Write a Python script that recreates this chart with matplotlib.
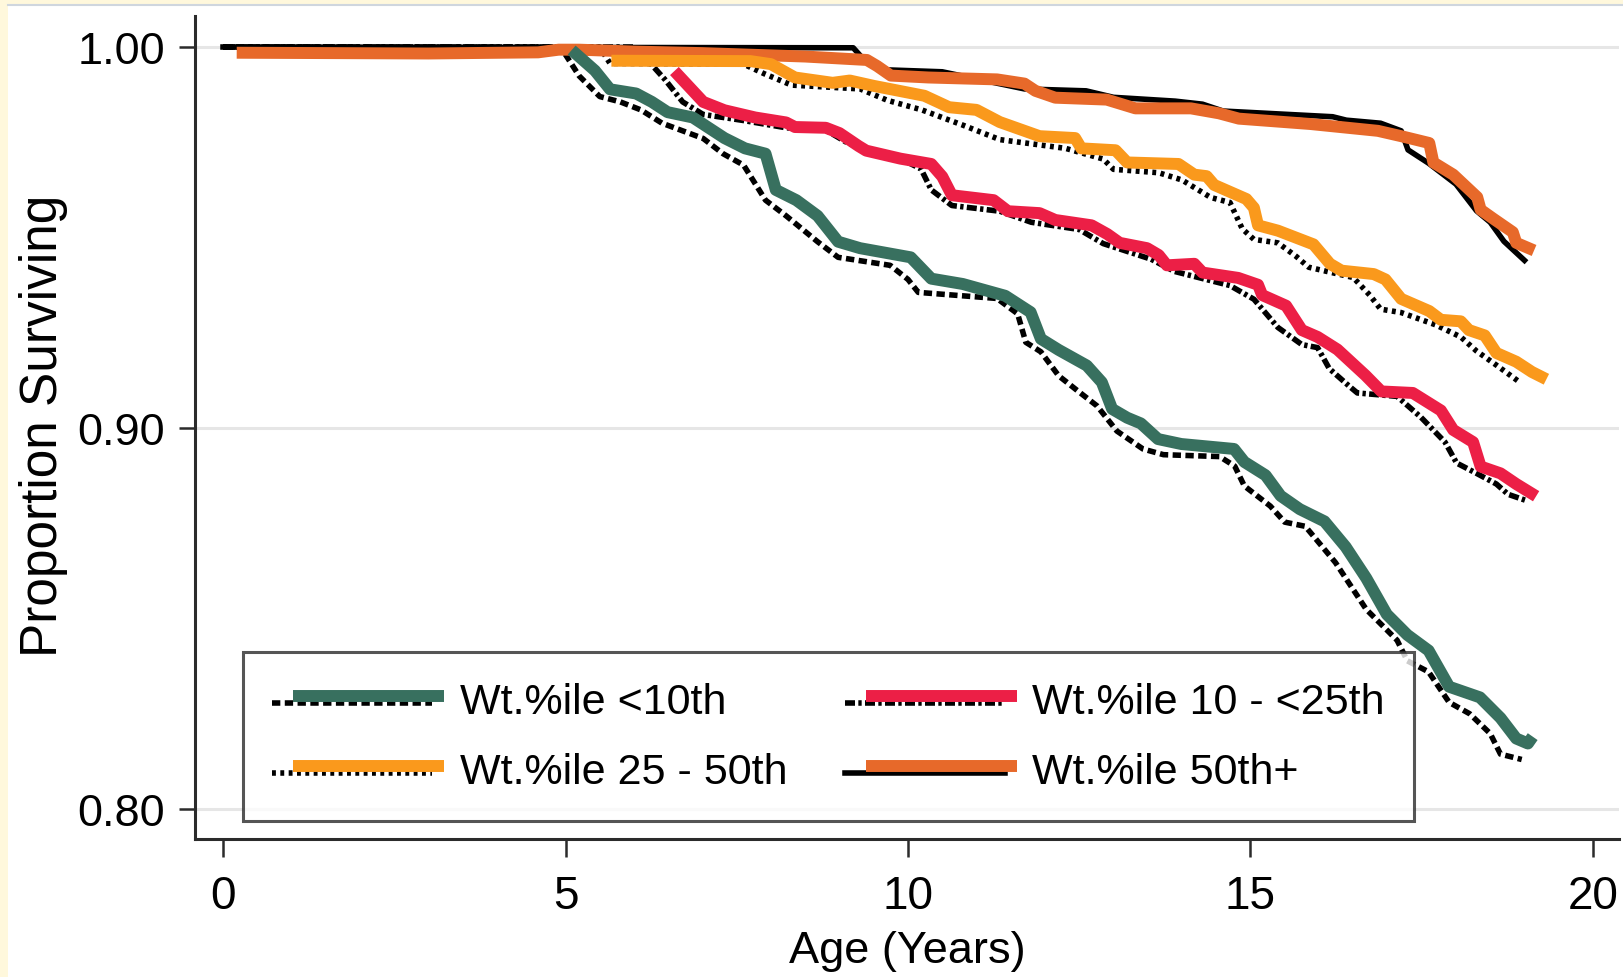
import matplotlib.pyplot as plt
from matplotlib.lines import Line2D
from matplotlib.legend_handler import HandlerBase
from matplotlib.patches import Rectangle

# survival curves (age in years, proportion surviving)

# Wt.%ile <10th
green_age = [5.09, 5.43, 5.65, 6.03, 6.26, 6.49, 6.86, 7.09, 7.32, 7.62, 7.92, 8.07, 8.37, 8.68, 8.98,
             9.3, 10.04, 10.34, 10.8, 11.42, 11.79, 11.94, 12.2, 12.61, 12.83, 12.98, 13.2, 13.4, 13.65,
             13.99, 14.76, 14.91, 15.22, 15.44, 15.72, 16.08, 16.39, 16.69, 16.99, 17.29, 17.6, 17.9,
             18.35, 18.65, 18.88, 19.05, 19.12]
green_surv = [0.9992, 0.9938, 0.9889, 0.9878, 0.9856, 0.9829, 0.9815, 0.9788, 0.9761, 0.9734, 0.972,
              0.9625, 0.9598, 0.9557, 0.9489, 0.9472, 0.9448, 0.9392, 0.9378, 0.9347, 0.9304, 0.9234,
              0.9205, 0.9164, 0.912, 0.905, 0.9027, 0.9012, 0.8971, 0.8958, 0.8945, 0.8911, 0.8876,
              0.8822, 0.8787, 0.8755, 0.8688, 0.8606, 0.8511, 0.8457, 0.8416, 0.8321, 0.8293, 0.8239,
              0.8185, 0.8172, 0.819]
blk10_age = [0, 4.9, 5.0, 5.2, 5.5, 5.8, 6.1, 6.41, 7.01, 7.3, 7.6, 7.92, 8.22, 8.68, 8.98, 9.74, 10.0,
             10.15, 11.3, 11.6, 11.72, 11.94, 12.2, 12.46, 12.76, 13.05, 13.43, 13.73, 14.55, 14.77,
             14.91, 15.29, 15.5, 15.8, 16.24, 16.69, 17.14, 17.29, 17.6, 17.9, 18.2, 18.5, 18.65, 18.96]
blk10_surv = [1.0, 1.0, 0.998, 0.9924, 0.987, 0.9856, 0.9835, 0.98, 0.976, 0.972, 0.969, 0.9598, 0.9557,
              0.9489, 0.9448, 0.9427, 0.939, 0.9356, 0.934, 0.93, 0.9225, 0.92, 0.9137, 0.91, 0.9058,
              0.8992, 0.8945, 0.893, 0.8925, 0.89, 0.8848, 0.8795, 0.8753, 0.8742, 0.8647, 0.8524,
              0.8443, 0.8389, 0.836, 0.828, 0.825, 0.8198, 0.8144, 0.813]

# Wt.%ile 10 - <25th
red_age = [6.59, 7.01, 7.32, 7.77, 8.22, 8.35, 8.8, 9.0, 9.28, 9.39, 9.89, 10.34, 10.5, 10.64, 11.25,
           11.46, 11.92, 12.15, 12.68, 12.91, 13.09, 13.49, 13.66, 13.78, 14.18, 14.3, 14.82, 15.11,
           15.17, 15.52, 15.75, 15.98, 16.27, 16.68, 16.91, 17.37, 17.78, 17.96, 18.25, 18.36, 18.65,
           18.88, 19.17]
red_surv = [0.9937, 0.9856, 0.9834, 0.9815, 0.9802, 0.979, 0.9788, 0.9774, 0.974, 0.9728, 0.9707,
            0.9693, 0.966, 0.9611, 0.9598, 0.9569, 0.9564, 0.9546, 0.9532, 0.9509, 0.9486, 0.9472,
            0.9454, 0.9427, 0.9431, 0.9408, 0.9394, 0.9376, 0.9349, 0.9321, 0.9257, 0.9239, 0.9206,
            0.9138, 0.9096, 0.9092, 0.9046, 0.8995, 0.8963, 0.8899, 0.8881, 0.8853, 0.8821]
blk1025_age = [0, 6.0, 6.2, 6.45, 6.71, 7.01, 7.6, 8.22, 8.8, 9.13, 9.58, 9.89, 10.19, 10.34, 10.64,
               11.34, 11.8, 12.5, 12.85, 13.55, 13.89, 14.7, 15.05, 15.4, 15.75, 15.98, 16.15, 16.44,
               16.56, 17.14, 17.49, 17.84, 18.01, 18.3, 18.59, 18.76, 19.02]
blk1025_surv = [1.0, 1.0, 0.9965, 0.9915, 0.9856, 0.9823, 0.9807, 0.9788, 0.9782, 0.9747, 0.972,
                0.9707, 0.968, 0.9625, 0.9584, 0.9569, 0.954, 0.9521, 0.9484, 0.9443, 0.9411, 0.9374,
                0.9338, 0.9264, 0.9219, 0.9211, 0.9156, 0.911, 0.9092, 0.9083, 0.9028, 0.8963, 0.8908,
                0.8881, 0.8853, 0.8826, 0.881]

# Wt.%ile 25 - 50th
yellow_age = [5.67, 7.7, 8.0, 8.35, 8.9, 9.15, 9.5, 10.24, 10.6, 11.0, 11.34, 11.92, 12.44, 12.53,
              13.03, 13.2, 13.95, 14.18, 14.36, 14.47, 14.94, 15.05, 15.11, 15.4, 15.92, 16.16, 16.33,
              16.8, 16.97, 17.2, 17.61, 17.78, 18.07, 18.19, 18.42, 18.59, 18.88, 19.11, 19.32]
yellow_surv = [0.9964, 0.9963, 0.9955, 0.992, 0.9906, 0.9912, 0.9898, 0.9872, 0.9842, 0.9835, 0.9803,
               0.9766, 0.9761, 0.9734, 0.9729, 0.9697, 0.9693, 0.9665, 0.9661, 0.9638, 0.9601, 0.9578,
               0.9532, 0.9518, 0.9482, 0.9431, 0.9413, 0.9404, 0.939, 0.9339, 0.9307, 0.9284, 0.928,
               0.9257, 0.9243, 0.9197, 0.9174, 0.9147, 0.9128]
blk2550_age = [0, 5.5, 5.65, 7.6, 7.9, 8.3, 9.3, 9.7, 10.2, 10.8, 11.34, 12.3, 12.85, 13.0, 13.66, 14.0,
               14.42, 14.7, 14.88, 15.05, 15.4, 15.67, 15.85, 16.5, 16.74, 16.9, 17.2, 17.7, 18.07,
               18.3, 18.59, 18.94]
blk2550_surv = [1.0, 1.0, 0.9957, 0.9955, 0.993, 0.99, 0.989, 0.986, 0.9835, 0.9795, 0.9757, 0.9734,
                0.9706, 0.9679, 0.967, 0.9651, 0.9605, 0.9592, 0.9523, 0.9495, 0.9486, 0.945, 0.9422,
                0.9395, 0.9349, 0.9312, 0.9303, 0.9271, 0.9239, 0.9202, 0.9165, 0.9119]

# Wt.%ile 50th+
orange_age = [0.2, 3.0, 4.6, 4.9, 5.2, 6.0, 7.0, 8.5, 9.4, 9.55, 9.75, 10.3, 11.3, 11.7, 11.86, 12.15,
              12.9, 13.32, 14.13, 14.54, 14.83, 15.87, 16.86, 17.2, 17.61, 17.67, 17.96, 18.31, 18.36,
              18.54, 18.83, 18.88, 19.14]
orange_surv = [0.9985, 0.9983, 0.9986, 0.9993, 0.9993, 0.9988, 0.9984, 0.9975, 0.9966, 0.995, 0.9925,
               0.992, 0.9915, 0.9904, 0.9885, 0.9867, 0.9862, 0.9839, 0.9839, 0.9826, 0.9812, 0.9798,
               0.978, 0.9766, 0.9748, 0.9697, 0.9665, 0.9606, 0.9573, 0.955, 0.9514, 0.9486, 0.9466]
blk50_age = [0, 9.2, 9.35, 9.7, 10.5, 11.3, 11.7, 12.6, 13.0, 13.9, 14.3, 14.6, 16.2, 16.4, 16.9, 17.2,
             17.3, 17.6, 18.0, 18.3, 18.5, 18.7, 19.0]
blk50_surv = [1.0, 0.9998, 0.9968, 0.994, 0.9935, 0.9905, 0.989, 0.9885, 0.9868, 0.9858, 0.985, 0.9832,
              0.9817, 0.9808, 0.98, 0.978, 0.973, 0.9695, 0.964, 0.957, 0.954, 0.949, 0.944]

labels = ['Wt.%ile <10th', 'Wt.%ile 25 - 50th', 'Wt.%ile 10 - <25th', 'Wt.%ile 50th+']
x_ticks = [0, 5, 10, 15, 20]
y_ticks = [0.80, 0.90, 1.00]

GREEN = '#38705f'
RED = '#ec1f46'
YELLOW = '#fa991c'
ORANGE = '#e7692a'

plt.rcParams['font.family'] = ['Liberation Sans', 'DejaVu Sans']


class PairHandler(HandlerBase):

	# black curve sits a bit lower and further left than the coloured one
	def create_artists(self, legend, orig_handle, xdescent, ydescent, width, height, fontsize, trans):

		black, colour = orig_handle
		y = height / 2 - ydescent
		x0 = -xdescent

		under = Line2D([x0, x0 + 0.93 * width], [y - 4, y - 4])
		under.update_from(black)
		under.set_transform(trans)

		over = Line2D([x0 + 0.12 * width, x0 + width], [y + 1, y + 1])
		over.update_from(colour)
		over.set_transform(trans)

		return [under, over]


fig = plt.figure(figsize = (16.23, 9.78), dpi = 100)
fig.patch.set_facecolor('white')

fig.patches.append(Rectangle((0, 0), 8 / 1623, 1, transform = fig.transFigure,
							 facecolor = '#fff8dc', edgecolor = 'none', zorder = 0))
fig.patches.append(Rectangle((0, 1 - 5 / 978), 1, 5 / 978, transform = fig.transFigure,
							 facecolor = '#fff8dc', edgecolor = 'none', zorder = 0))
fig.lines.append(Line2D([8 / 1623, 1], [1 - 6 / 978, 1 - 6 / 978], transform = fig.transFigure,
						color = '#cfd6de', lw = 1.5))

ax = fig.add_axes([195 / 1623, 1 - 840 / 978, 1424 / 1623, 823 / 978])

ax.set_xlim(-0.409, 20.38)
ax.set_ylim(0.79213, 1.00814)

for v in y_ticks:
	ax.axhline(v, color = '#e6e6e6', lw = 2.2, zorder = 0)

black_lw = 4.0
colour_lw = 8.6

b10, = ax.plot(blk10_age, blk10_surv, color = 'black', lw = black_lw,
			   linestyle = (0, (1.5, 0.8)), zorder = 2)
b1025, = ax.plot(blk1025_age, blk1025_surv, color = 'black', lw = black_lw,
				 linestyle = (0, (1.8, 0.6, 0.6, 0.6)), zorder = 2)
b2550, = ax.plot(blk2550_age, blk2550_surv, color = 'black', lw = black_lw,
				 linestyle = (0, (0.7, 0.8)), zorder = 2)
b50, = ax.plot(blk50_age, blk50_surv, color = 'black', lw = black_lw, zorder = 2)

c50, = ax.plot(orange_age, orange_surv, color = ORANGE, lw = colour_lw,
			   solid_capstyle = 'butt', solid_joinstyle = 'round', zorder = 3)
c2550, = ax.plot(yellow_age, yellow_surv, color = YELLOW, lw = colour_lw,
				 solid_capstyle = 'butt', solid_joinstyle = 'round', zorder = 3)
c1025, = ax.plot(red_age, red_surv, color = RED, lw = colour_lw,
				 solid_capstyle = 'butt', solid_joinstyle = 'round', zorder = 3)
c10, = ax.plot(green_age, green_surv, color = GREEN, lw = colour_lw,
			   solid_capstyle = 'butt', solid_joinstyle = 'round', zorder = 4)

for side in ['top', 'right']:
	ax.spines[side].set_visible(False)
for side in ['left', 'bottom']:
	ax.spines[side].set_color('#2b2b2b')
	ax.spines[side].set_linewidth(2.2)

ax.set_xticks(x_ticks)
ax.set_xticklabels([str(t) for t in x_ticks])
ax.set_yticks(y_ticks)
ax.set_yticklabels(['%.2f' % t for t in y_ticks])

ax.tick_params(axis = 'x', length = 13, width = 1.8, color = '#2b2b2b', pad = 12, labelsize = 33)
ax.tick_params(axis = 'y', length = 11.5, width = 1.8, color = '#2b2b2b', pad = 10, labelsize = 32.5)

ax.set_xlabel('Age (Years)', fontsize = 32.5, va = 'center')
ax.xaxis.set_label_coords(0.5, -0.1349)

ax.set_ylabel('Proportion Surviving', fontsize = 37, va = 'center')
ax.yaxis.set_label_coords(-0.1067, 0.503)

handles = [(b10, c10), (b2550, c2550), (b1025, c1025), (b50, c50)]
leg = ax.legend(handles, labels, handler_map = {tuple: PairHandler()}, ncol = 2,
				loc = 'lower left', bbox_to_anchor = (0.0337, 0.0219), borderaxespad = 0,
				fontsize = 31, handlelength = 4.0, handletextpad = 0.35, columnspacing = 1.35,
				labelspacing = 0.70, borderpad = 0.68, frameon = True, fancybox = False)
leg.get_frame().set_edgecolor('#2b2b2b')
leg.get_frame().set_linewidth(2.2)

fig.savefig('out.png', dpi = 100)
